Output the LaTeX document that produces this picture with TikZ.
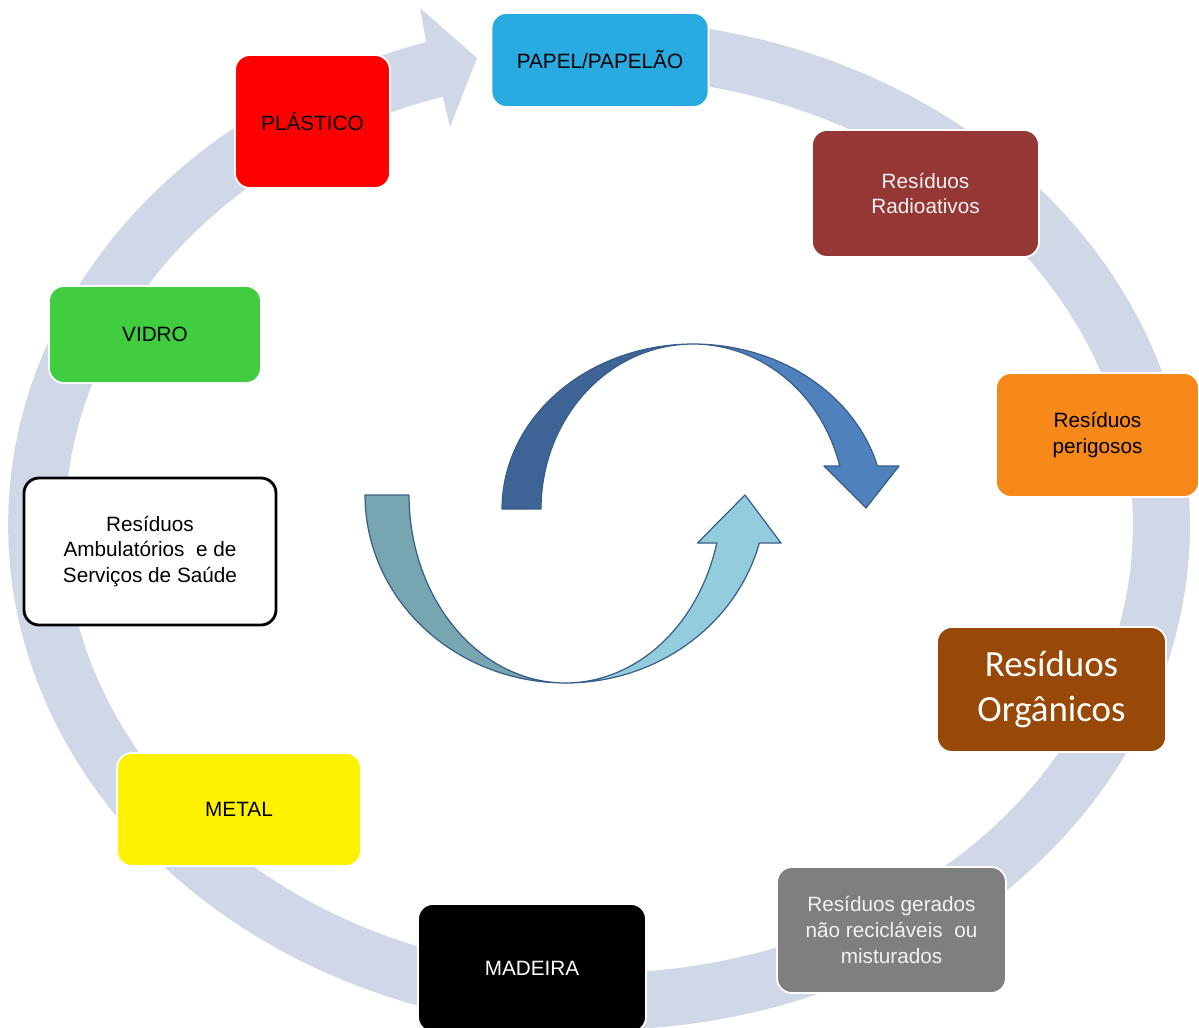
\documentclass[tikz,border=0pt]{standalone}
\usepackage{fontspec}
\setmainfont{Liberation Sans}
\newfontfamily\orgfont{Carlito}
\definecolor{ringblue}{RGB}{208,216,232}
\definecolor{papelblue}{RGB}{41,171,226}
\definecolor{radiored}{RGB}{149,55,53}
\definecolor{vidrogreen}{RGB}{64,206,64}
\definecolor{perigoorange}{RGB}{247,136,26}
\definecolor{organicbrown}{RGB}{152,72,7}
\definecolor{mixedgray}{RGB}{127,127,127}
\definecolor{upperback}{RGB}{62,100,150}
\definecolor{upperfront}{RGB}{79,129,189}
\definecolor{lowerback}{RGB}{120,166,176}
\definecolor{lowerfront}{RGB}{147,205,221}
\definecolor{arrowline}{RGB}{56,93,138}
\tikzset{
  wastebox/.style={draw=white, line width=1pt, rounded corners=0.3cm, align=center,
    inner sep=0pt, font=\fontsize{11.8}{14.6}\selectfont},
  arrowpart/.style={draw=arrowline, line width=0.7pt, line join=round}
}

\begin{document}
\begin{tikzpicture}
\begin{scope}[x=0.02cm, y=-0.02cm]
\useasboundingbox (0,0) rectangle (1199,1027);

\fill[ringblue] plot[domain=0:341, samples=150] ({599+591*cos(88-\x)}, {525-505*sin(88-\x)})
  -- (420,8) -- (477,58) -- (450,127)
  -- plot[domain=0:341, samples=150] ({599+534*cos(-253+\x)}, {525-448*sin(-253+\x)}) -- cycle;

\draw[arrowpart, fill=upperback]
  plot[domain=0:90, samples=40] ({693+191*cos(180-\x)}, {509-165*sin(180-\x)})
  -- plot[domain=0:90, samples=40] ({693+152*cos(90+\x)}, {509-165*sin(90+\x)}) -- cycle;
\draw[arrowpart, fill=upperfront]
  plot[domain=0:74.9, samples=40] ({693+191*cos(90-\x)}, {509-165*sin(90-\x)})
  -- (899,466) -- (866,508) -- (824,466)
  -- plot[domain=0:74.9, samples=40] ({693+152*cos(15.1+\x)}, {509-165*sin(15.1+\x)}) -- cycle;

\draw[arrowpart, fill=lowerback]
  plot[domain=0:90, samples=40] ({565.5+200.5*cos(180+\x)}, {495-188*sin(180+\x)})
  -- plot[domain=0:90, samples=40] ({565.5+156.5*cos(270-\x)}, {495-188*sin(270-\x)}) -- cycle;
\draw[arrowpart, fill=lowerfront]
  plot[domain=0:75.2, samples=40] ({565.5+200.5*cos(270+\x)}, {495-188*sin(270+\x)})
  -- (781,543) -- (745,495) -- (697.5,543)
  -- plot[domain=0:75.2, samples=40] ({565.5+156.5*cos(345.2-\x)}, {495-188*sin(345.2-\x)}) -- cycle;

\node[wastebox, fill=papelblue, minimum width=4.34cm, minimum height=1.88cm] (papel) at (600,60) {PAPEL/PAPELÃO};
\node[wastebox, fill=red, minimum width=3.1cm, minimum height=2.66cm] (plastico) at (312.5,121.5) {PLÁSTICO};
\node[wastebox, fill=radiored, text=white!95!black, minimum width=4.54cm, minimum height=2.54cm] (radio) at (925.5,193.5) {Resíduos\\Radioativos};
\node[wastebox, fill=vidrogreen, minimum width=4.24cm, minimum height=1.94cm] (vidro) at (155,334.5) {VIDRO};
\node[wastebox, fill=perigoorange, minimum width=4.06cm, minimum height=2.48cm] (perigo) at (1097.5,435) {Resíduos\\perigosos};
\node[wastebox, draw=black, line width=1.6pt, fill=white, minimum width=5.04cm, minimum height=2.94cm] (saude) at (150,551.5) {Resíduos\\Ambulatórios~ e de\\Serviços de Saúde};
\node[wastebox, fill=organicbrown, text=white, font=\orgfont\fontsize{21}{26}\selectfont, minimum width=4.58cm, minimum height=2.5cm] (organico) at (1051.5,689.5) {Resíduos\\Orgânicos};
\node[wastebox, fill=yellow, minimum width=4.88cm, minimum height=2.26cm] (metal) at (239,809.5) {METAL};
\node[wastebox, fill=mixedgray, text=white!95!black, minimum width=4.58cm, minimum height=2.52cm] (misto) at (891.5,930) {Resíduos gerados\\não recicláveis~ ou\\misturados};
\node[wastebox, fill=black, text=white, minimum width=4.56cm, minimum height=2.56cm] (madeira) at (532,968) {MADEIRA};

\end{scope}
\end{tikzpicture}
\end{document}
